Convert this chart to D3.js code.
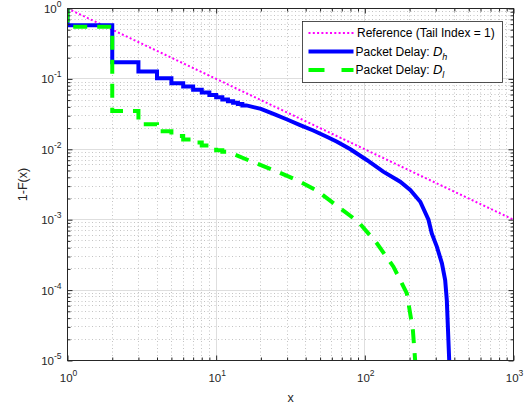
<!DOCTYPE html>
<html>
<head>
<meta charset="utf-8">
<script src="https://cdn.jsdelivr.net/npm/d3@7"></script>
<style>
  body { margin: 0; background: #fff; }
  svg { display: block; font-family: "Liberation Sans", Arial, Helvetica, sans-serif; }
</style>
</head>
<body>
<script>
const W = 529, H = 409;
const margin = { left: 67.5, top: 8.5 };
const pw = 446, ph = 352;

// reference line, tail index = 1
const refX = [1, 1000];
const refY = [1, 0.001];

// packet delay D_h : stepped part (edges + levels) and smooth tail
const hStepX = [1, 2, 3, 4, 5, 6, 7, 8, 9, 10, 11, 12, 13, 14, 15, 16];
const hStepY = [0.58, 0.172, 0.127, 0.102, 0.087, 0.078, 0.070, 0.064, 0.059, 0.055, 0.051, 0.048, 0.046, 0.044, 0.042];
const hTailX = [20, 25, 30, 36.7, 45, 55, 65, 80, 103, 133, 173, 202, 236, 268, 282, 305, 330, 347, 356, 369.5];
const hTailY = [0.0375, 0.031, 0.0265, 0.0221, 0.0185, 0.0152, 0.0128, 0.0100, 0.00705, 0.00481, 0.00347, 0.00264, 0.0018, 0.001, 0.00064, 0.000414, 0.00024, 0.000139, 7.2e-5, 1e-5];

// packet delay D_l
const lStepX = [1, 2, 3, 4, 5, 6, 7, 8, 9, 10, 11, 12];
const lStepY = [0.55, 0.035, 0.0227, 0.018, 0.0154, 0.0138, 0.0125, 0.0113, 0.0105, 0.0097, 0.0092];
const lTailX = [17.4, 24.9, 35.6, 47.7, 66.1, 90.1, 120.5, 155.7, 191.7, 210.5, 218];
const lTailY = [0.00667, 0.00496, 0.00358, 0.00258, 0.00153, 0.000938, 0.000462, 0.000215, 9.0e-5, 2.7e-5, 1e-5];

const xMajor = [1, 10, 100, 1000];
const yMajor = [1e-5, 1e-4, 1e-3, 1e-2, 1e-1, 1];
const xLabels = ["0", "1", "2", "3"];
const yLabels = ["-5", "-4", "-3", "-2", "-1", "0"];

const legendNames = ["Reference (Tail Index = 1)", "Packet Delay: ", "Packet Delay: "];

const svg = d3.select("body").append("svg").attr("width", W).attr("height", H);

const x = d3.scaleLog().domain([1, 1000]).range([0, pw]);
const y = d3.scaleLog().domain([1e-5, 1]).range([ph, 0]);

function minors(majors) {
  let out = [];
  for (let i = 0; i < majors.length - 1; i++) {
    for (let k = 2; k <= 9; k++) out.push(majors[i] * k);
  }
  return out;
}
const xMinor = minors(xMajor);
const yMinor = minors(yMajor);

const g = svg.append("g").attr("transform", "translate(" + margin.left + "," + margin.top + ")");

// grid
const grid = g.append("g");
grid.selectAll(".xmg").data(xMinor).enter().append("line")
  .attr("x1", d => Math.round(x(d))).attr("x2", d => Math.round(x(d)))
  .attr("y1", 0).attr("y2", ph)
  .attr("stroke", "#c4c4c4").attr("stroke-width", 1).attr("stroke-dasharray", "1,2.5");
grid.selectAll(".ymg").data(yMinor).enter().append("line")
  .attr("y1", d => Math.round(y(d))).attr("y2", d => Math.round(y(d)))
  .attr("x1", 0).attr("x2", pw)
  .attr("stroke", "#c4c4c4").attr("stroke-width", 1).attr("stroke-dasharray", "1,2.5");
grid.selectAll(".xMg").data(xMajor).enter().append("line")
  .attr("x1", d => Math.round(x(d))).attr("x2", d => Math.round(x(d)))
  .attr("y1", 0).attr("y2", ph)
  .attr("stroke", "#dedede").attr("stroke-width", 1);
grid.selectAll(".yMg").data(yMajor).enter().append("line")
  .attr("y1", d => Math.round(y(d))).attr("y2", d => Math.round(y(d)))
  .attr("x1", 0).attr("x2", pw)
  .attr("stroke", "#dedede").attr("stroke-width", 1);

// data lines
function stepPoints(xs, ys, tx, ty) {
  let pts = [[xs[0], 1]];
  for (let i = 0; i < ys.length; i++) {
    pts.push([xs[i], ys[i]]);
    pts.push([xs[i + 1], ys[i]]);
  }
  for (let i = 0; i < tx.length; i++) pts.push([tx[i], ty[i]]);
  return pts;
}

svg.append("defs").append("clipPath").attr("id", "clip")
  .append("rect").attr("x", 0).attr("y", 0).attr("width", pw).attr("height", ph);

const line = d3.line().x(d => x(d[0])).y(d => y(d[1]));
const plot = g.append("g").attr("clip-path", "url(#clip)");

plot.append("path")
  .datum(refX.map((d, i) => [d, refY[i]]))
  .attr("d", line).attr("fill", "none")
  .attr("stroke", "#ff00ff").attr("stroke-width", 2).attr("stroke-dasharray", "2,2.3");

plot.append("path")
  .datum(stepPoints(hStepX, hStepY, hTailX, hTailY))
  .attr("d", line).attr("fill", "none")
  .attr("stroke", "#0000ff").attr("stroke-width", 4).attr("stroke-linejoin", "miter");

plot.append("path")
  .datum(stepPoints(lStepX, lStepY, lTailX, lTailY))
  .attr("d", line).attr("fill", "none")
  .attr("stroke", "#00ff00").attr("stroke-width", 4).attr("stroke-dasharray", "14,10");

// axes (ticks inside, on all four sides)
const axCol = "#262626";
function styleAxis(sel) {
  sel.select(".domain").remove();
  sel.selectAll("line").attr("stroke", axCol);
  sel.selectAll("text").remove();
}
g.append("g").attr("transform", "translate(0," + ph + ")").call(d3.axisBottom(x).tickValues(xMajor).tickSize(-5)).call(styleAxis);
g.append("g").attr("transform", "translate(0," + ph + ")").call(d3.axisBottom(x).tickValues(xMinor).tickSize(-3)).call(styleAxis);
g.append("g").call(d3.axisTop(x).tickValues(xMajor).tickSize(-5)).call(styleAxis);
g.append("g").call(d3.axisTop(x).tickValues(xMinor).tickSize(-3)).call(styleAxis);
g.append("g").call(d3.axisLeft(y).tickValues(yMajor).tickSize(-5)).call(styleAxis);
g.append("g").call(d3.axisLeft(y).tickValues(yMinor).tickSize(-3)).call(styleAxis);
g.append("g").attr("transform", "translate(" + pw + ",0)").call(d3.axisRight(y).tickValues(yMajor).tickSize(-5)).call(styleAxis);
g.append("g").attr("transform", "translate(" + pw + ",0)").call(d3.axisRight(y).tickValues(yMinor).tickSize(-3)).call(styleAxis);

g.append("rect").attr("x", 0).attr("y", 0).attr("width", pw).attr("height", ph)
  .attr("fill", "none").attr("stroke", axCol).attr("stroke-width", 1);

// tick labels 10^n
xMajor.forEach((d, i) => {
  const t = g.append("text")
    .attr("x", x(d) + 1).attr("y", ph + 21.5)
    .attr("text-anchor", "middle").attr("fill", axCol).attr("font-size", 11.5);
  t.append("tspan").text("10");
  t.append("tspan").attr("dy", -6).attr("font-size", 8.5).text(xLabels[i]);
});
yMajor.forEach((d, i) => {
  const t = g.append("text")
    .attr("x", -6).attr("y", y(d) + 4.5)
    .attr("text-anchor", "end").attr("fill", axCol).attr("font-size", 11.5);
  t.append("tspan").text("10");
  t.append("tspan").attr("dy", -6).attr("font-size", 8.5).text(yLabels[i]);
});

// axis titles
svg.append("text").attr("x", margin.left + pw / 2).attr("y", 402)
  .attr("text-anchor", "middle").attr("fill", axCol).attr("font-size", 12.5).text("x");
svg.append("text").attr("transform", "translate(27," + (margin.top + ph / 2) + ") rotate(-90)")
  .attr("text-anchor", "middle").attr("fill", axCol).attr("font-size", 12.5).text("1-F(x)");

// legend
const leg = svg.append("g").attr("transform", "translate(302.5,21.5)");
leg.append("rect").attr("width", 200).attr("height", 61)
  .attr("fill", "#fff").attr("stroke", axCol).attr("stroke-width", 0.8);
const legStyles = [
  { c: "#ff00ff", w: 2, dash: "2,2.3" },
  { c: "#0000ff", w: 4, dash: null },
  { c: "#00ff00", w: 4, dash: "16,17" }
];
const legSubs = [null, "h", "l"];
legendNames.forEach((name, i) => {
  const yy = 11.5 + i * 18.5;
  leg.append("line").attr("x1", 6).attr("x2", 51).attr("y1", yy).attr("y2", yy)
    .attr("stroke", legStyles[i].c).attr("stroke-width", legStyles[i].w)
    .attr("stroke-dasharray", legStyles[i].dash);
  const t = leg.append("text").attr("x", 53).attr("y", yy + 4)
    .attr("fill", "#000").attr("font-size", 12);
  if (i === 0) t.attr("x", 54.5);
  t.append("tspan").text(name);
  if (legSubs[i]) {
    t.append("tspan").attr("font-style", "italic").attr("font-size", 13).text("D");
    t.append("tspan").attr("font-style", "italic").attr("font-size", 9).attr("dy", 4).text(legSubs[i]);
  }
});
</script>
</body>
</html>
